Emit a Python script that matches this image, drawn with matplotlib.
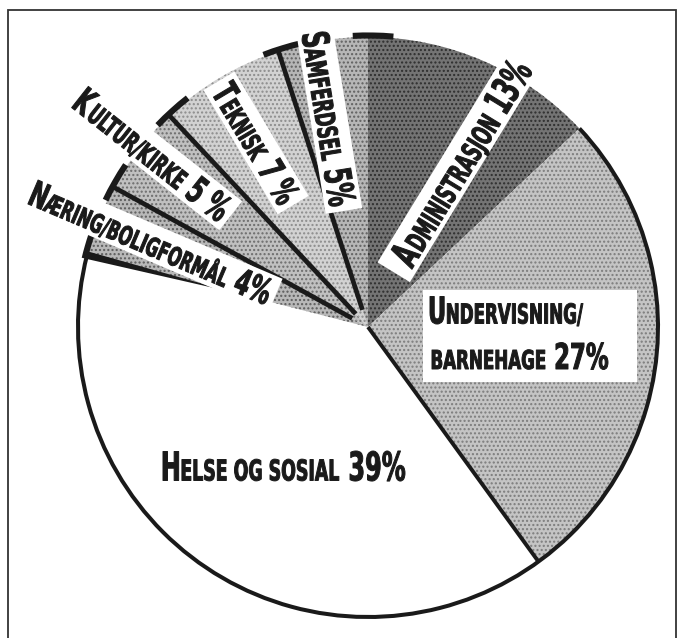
import numpy as np
import matplotlib
matplotlib.use("Agg")
import matplotlib.pyplot as plt
from matplotlib.patches import Arc, Polygon, PathPatch, Rectangle
from matplotlib.textpath import TextPath
from matplotlib.font_manager import FontProperties
from matplotlib.transforms import Affine2D
from matplotlib.path import Path

# Driftsutgifter fordelt på sektor, med klokka fra kl. 12
sectors = ["Administrasjon", "Undervisning/barnehage", "Helse og sosial",
           "Næring/boligformål", "Kultur/kirke", "Teknisk", "Samferdsel"]
shares = [13, 27, 39, 4, 5, 7, 5]
pct_labels = ["13%", "27%", "39%", "4%", "5 %", "7 %", "5%"]

shades = ["#747474", "#c4c4c4", "#ffffff", "#b8b8b8", "#c0c0c0", "#d2d2d2", "#b6b6b6"]
dots = ["#2e2e2e", "#7c7c7c", "#ffffff", "#5c5c5c", "#6c6c6c", "#8c8c8c", "#606060"]

W_PX, H_PX = 685, 638
CX, CY, R = 368, H_PX - 327, 290
INK = "#1a1a1a"

FP = FontProperties(family="DejaVu Sans", weight="bold")
CAP = TextPath((0, 0), "H", size=1, prop=FP).get_extents().height


def px(x, y):
    # picture pixel (y down) -> data
    return (x, H_PX - y)


def pt(r, a):
    return (CX + r * np.cos(np.radians(a)), CY + r * np.sin(np.radians(a)))


def caps_path(pieces, big, small):
    paths, x = [], 0.0
    for txt, is_big in pieces:
        size = (big if is_big else small) / CAP
        tp = TextPath((x, 0), txt, size=size, prop=FP)
        paths.append(tp)
        x = tp.get_extents().x1 + 0.07 * size
    return Path.make_compound_path(*paths)


def label(ax, pieces, start, end, big, small, box=True, before=6, after=6, side=5):
    (xs, ys), (xe, ye) = px(*start), px(*end)
    length = np.hypot(xe - xs, ye - ys)
    ang = np.degrees(np.arctan2(ye - ys, xe - xs))
    path = caps_path(pieces, big, small)
    ext = path.get_extents()
    sx = length / (ext.x1 - ext.x0)
    tr = (Affine2D().translate(-ext.x0, -big / 2).scale(sx, 1)
          .rotate_deg(ang).translate(xs, ys))
    if box:
        corners = [(-before, -big / 2 - side), (length + after, -big / 2 - side),
                   (length + after, big / 2 + side), (-before, big / 2 + side)]
        corners = Affine2D().rotate_deg(ang).translate(xs, ys).transform(corners)
        ax.add_patch(Polygon(corners, closed=True, fc="white", lw=0, zorder=4))
    ax.add_patch(PathPatch(tr.transform_path(path), fc=INK, ec=INK, lw=0.7,
                           joinstyle="round", zorder=5))


def small_caps(name, pct, first_big=True):
    up = name.upper()
    if first_big:
        return [(up[0], True), (up[1:], False), (" " + pct, True)]
    return [(up, False), (" " + pct, True)]


fig = plt.figure(figsize=(W_PX / 100, H_PX / 100), dpi=100)
ax = fig.add_axes([0, 0, 1, 1])

wedges, _ = ax.pie(shares, colors=shades, startangle=90, counterclock=False,
                   center=(CX, CY), radius=R, frame=True,
                   wedgeprops=dict(linewidth=0))
for w, d, name in zip(wedges, dots, sectors):
    w.set_edgecolor(d)
    w.set_linewidth(0)
    if name != "Helse og sosial":
        w.set_hatch("....")

cum = np.concatenate([[0], np.cumsum(shares)])
bounds = 90 - 360 * cum / cum[-1]   # slice boundaries, degrees

# outline of Undervisning + Helse
ax.add_patch(Arc((CX, CY), 2 * R, 2 * R, theta1=bounds[3], theta2=bounds[1],
                 lw=2.9, color=INK, zorder=3))
ax.plot(*zip((CX, CY), pt(R, bounds[2])), color=INK, lw=2.8,
        solid_capstyle="butt", zorder=3)

# Helse top edge, tapering in towards the centre
a = bounds[3] % 360
ax.add_patch(Polygon([pt(R, a + 0.8), pt(R, a - 0.7), pt(140, a)],
                     closed=True, fc=INK, lw=0, zorder=3))

# edges and shadow caps of the small slices
for b in bounds[4:7]:
    ax.plot(*zip(pt(18, b), pt(R, b)), color=INK, lw=3.4,
            solid_capstyle="butt", zorder=3)
for b in bounds[3:]:
    b = b % 360
    lo, hi = (b - 4, b + 0.8) if b > 160 else (b - 5, b + 3)
    ax.add_patch(Arc((CX, CY), 2 * R + 3, 2 * R + 3, theta1=lo, theta2=hi,
                     lw=4.4, color=INK, zorder=3))

# labels
label(ax, small_caps(sectors[2], pct_labels[2]), (163, 466), (405, 466), 29, 21,
      box=False)

ax.add_patch(Rectangle(px(423, 382), 637 - 423, 382 - 290, fc="white", lw=0,
                       zorder=4))
label(ax, [("U", True), ("NDERVISNING/", False)], (430, 310), (583, 310), 27, 20,
      box=False)
label(ax, small_caps("barnehage", pct_labels[1], first_big=False),
      (432, 356), (608, 356), 26, 19, box=False)

label(ax, small_caps(sectors[0], pct_labels[0]), (400, 262), (521, 64), 28, 21,
      before=12, after=6)
label(ax, small_caps(sectors[6], pct_labels[6]), (315, 33), (343, 205), 27, 20,
      before=4, after=6)
label(ax, small_caps(sectors[5], pct_labels[5]), (222, 86), (290, 200), 26, 19)
label(ax, small_caps(sectors[4], pct_labels[4]), (80, 97), (226, 212), 27, 20)
label(ax, small_caps(sectors[3], pct_labels[3]), (33, 192), (270, 293), 26, 19)

ax.set_xlim(0, W_PX)
ax.set_ylim(0, H_PX)
ax.set_aspect("equal")
ax.axis("off")

# frame round the figure
fig.add_artist(Rectangle((8 / W_PX, -0.05), 668 / W_PX, 1.05 - 10 / H_PX,
                         transform=fig.transFigure, fill=False, lw=1.3,
                         ec="#333333"))

fig.savefig("out.png", dpi=100)
